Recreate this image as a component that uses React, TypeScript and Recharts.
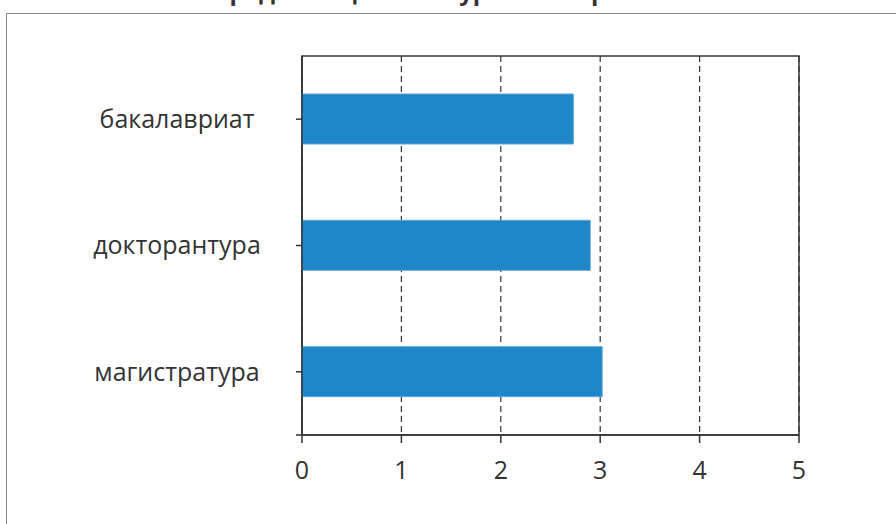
import React from "react";
import {
  Bar,
  BarChart,
  CartesianGrid,
  ReferenceArea,
  XAxis,
  YAxis,
} from "recharts";

const levels = ["бакалавриат", "докторантура", "магистратура"];
const scores = [2.73, 2.9, 3.02];
const scoreTicks = [0, 1, 2, 3, 4, 5];
const title = "Средняя оценка по уровню образования";

const data = levels.map((level, i) => ({ level, score: scores[i] }));

const fontFamily = "'Open Sans', 'Noto Sans', sans-serif";
const ink = "#333333";

// x tick that also draws the little stub left of the origin
const ScoreTick = (props: any) => {
  const { x, y, payload } = props;
  const axisY = y - 8 - 18;
  return (
    <g>
      {payload.value === 0 && (
        <line x1={x - 6} y1={axisY} x2={x} y2={axisY} stroke={ink} strokeWidth={1.5} />
      )}
      <text x={x} y={y} dy="0.71em" textAnchor="middle" fill={ink} fontSize={25} fontFamily={fontFamily}>
        {payload.value}
      </text>
    </g>
  );
};

// category labels sit centred in the space left of the axis
const LevelTick = (props: any) => {
  const { x, y, payload } = props;
  return (
    <text x={x - 78} y={y} dy="0.35em" textAnchor="middle" fill={ink} fontSize={25} fontFamily={fontFamily}>
      {payload.value}
    </text>
  );
};

export default function App() {
  return (
    <div
      style={{
        position: "absolute",
        left: 0,
        top: 0,
        width: 896,
        height: 524,
        overflow: "hidden",
        background: "#ffffff",
      }}
    >
      <div
        style={{
          position: "absolute",
          left: 6,
          top: 13,
          width: 1000,
          height: 1000,
          borderLeft: "1.5px solid #8a8a8a",
          borderTop: "1.5px solid #8a8a8a",
        }}
      />
      <svg width={896} height={30} style={{ position: "absolute", left: 0, top: 0 }}>
        <text x={470} y={0} textAnchor="middle" fontSize={24} fontWeight={700} fill={ink} fontFamily={fontFamily}>
          {title}
        </text>
      </svg>
      <div style={{ position: "absolute", left: 0, top: 0 }}>
        <BarChart
          width={896}
          height={524}
          data={data}
          layout="vertical"
          margin={{ top: 56, right: 97, left: 0, bottom: 39 }}
          barSize={50}
        >
          <CartesianGrid horizontal={false} stroke={ink} strokeDasharray="6 4" strokeWidth={1.2} />
          <XAxis
            type="number"
            domain={[0, 5]}
            ticks={scoreTicks}
            height={50}
            tickSize={8}
            tickMargin={18}
            axisLine={{ stroke: ink, strokeWidth: 1.5 }}
            tickLine={{ stroke: ink, strokeWidth: 1.5 }}
            tick={<ScoreTick />}
          />
          <YAxis
            type="category"
            dataKey="level"
            width={302}
            tickSize={6}
            tickMargin={41}
            axisLine={{ stroke: ink, strokeWidth: 1.5 }}
            tickLine={{ stroke: ink, strokeWidth: 1.5 }}
            tick={<LevelTick />}
          />
          <Bar dataKey="score" fill="#1F87C8" stroke="#58A8DD" strokeWidth={1} isAnimationActive={false} />
          <ReferenceArea x1={0} x2={5} fill="none" stroke={ink} strokeWidth={1.5} ifOverflow="visible" />
        </BarChart>
      </div>
    </div>
  );
}
